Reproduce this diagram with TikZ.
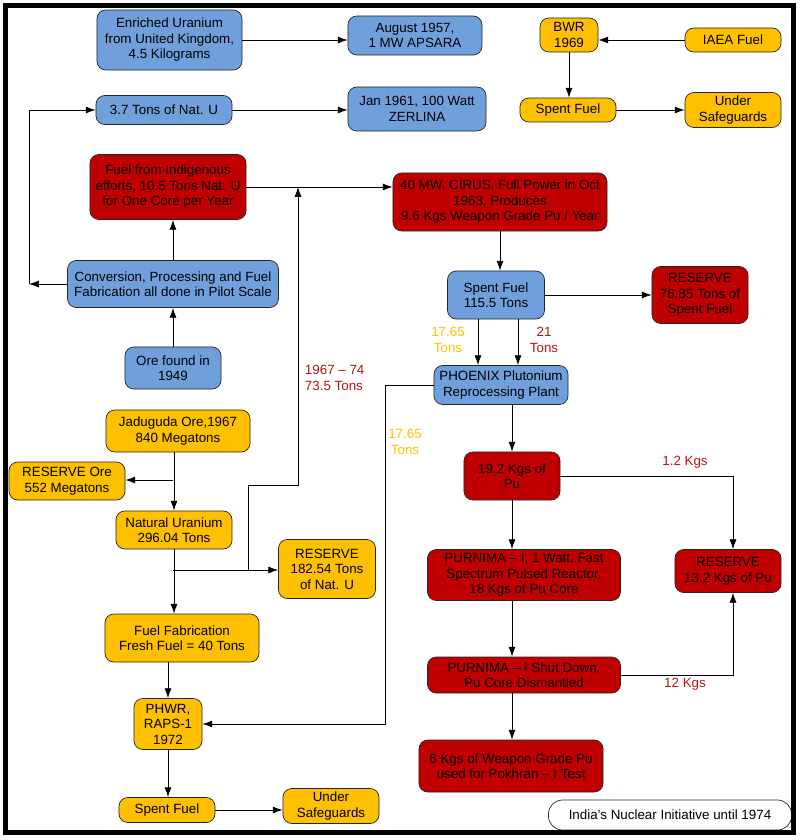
\documentclass[tikz,border=0pt]{standalone}
\usepackage{fontspec}
\setmainfont{Liberation Sans}
\usetikzlibrary{arrows.meta,positioning}
\definecolor{bluebox}{RGB}{111,160,220}
\definecolor{redbox}{RGB}{192,0,0}
\definecolor{orgbox}{RGB}{255,192,0}
\definecolor{redtxt}{RGB}{180,20,20}

\begin{document}
\begin{tikzpicture}[x=0.025cm,y=-0.025cm,
  box/.style={rectangle,rounded corners=2.2mm,draw=black!85,line width=0.5pt,align=center,inner sep=1pt,font=\fontsize{9.5}{11}\selectfont},
  blu/.style={box,fill=bluebox},
  rd/.style={box,fill=redbox},
  org/.style={box,fill=orgbox},
  sz/.style 2 args={minimum width=#1cm,minimum height=#2cm},
  lbl/.style={align=center,font=\fontsize{9.5}{11}\selectfont},
  a/.style={-{Latex[length=7pt,width=5pt]},line width=0.6pt}]
  \useasboundingbox (0,0) rectangle (802,840);
  % top row
  \node[blu,sz={3.625}{1.5}] (enr) at (169.5,40) {Enriched Uranium\\from United Kingdom,\\4.5 Kilograms};
  \node[blu,sz={3.35}{0.975}] (aps) at (415,35.5) {August 1957,\\1 MW APSARA};
  \node[blu,sz={3.4}{0.725}] (natu) at (164,110) {3.7 Tons of Nat. U};
  \node[blu,sz={3.45}{1.1}] (zer) at (417,109) {Jan 1961, 100 Watt\\ZERLINA};
  \node[org,sz={1.45}{0.85}] (bwr) at (569,35) {BWR\\1969};
  \node[org,sz={2.4}{0.6}] (iaea) at (733,40) {IAEA Fuel};
  \node[org,sz={2.4}{0.6}] (spt) at (568,110) {Spent Fuel};
  \node[org,sz={2.4}{0.875}] (sgt) at (733,110) {Under\\Safeguards};
  % CIRUS branch
  \node[rd,sz={3.9}{1.625}] (indig) at (168,187) {Fuel from Indigenous\\efforts, 10.5 Tons Nat. U\\for One Core per Year};
  \node[rd,sz={5.35}{1.45}] (cirus) at (500,202) {40 MW, CIRUS, Full Power in Oct\\1963, Produces\\9.6 Kgs Weapon Grade Pu / Year};
  \node[blu,sz={5.275}{1.175}] (conv) at (173,284) {Conversion, Processing and Fuel\\Fabrication all done in Pilot Scale};
  \node[blu,sz={2.425}{1.2}] (sp115) at (496,295) {Spent Fuel\\115.5 Tons};
  \node[rd,sz={2.4}{1.425}] (res76) at (700,295) {RESERVE\\76.85 Tons of\\Spent Fuel};
  \node[blu,sz={2.4}{1.05}] (ore49) at (173,368) {Ore found in\\1949};
  \node[blu,sz={3.35}{0.975}] (phx) at (501,385) {PHOENIX Plutonium\\Reprocessing Plant};
  % Jaduguda chain
  \node[org,sz={3.6}{1.05}] (jad) at (178,431) {Jaduguda Ore,1967\\840 Megatons};
  \node[org,sz={2.9}{0.95}] (resore) at (67,481) {RESERVE Ore\\552 Megatons};
  \node[org,sz={2.9}{0.95}] (natur) at (174,530) {Natural Uranium\\296.04 Tons};
  \node[org,sz={2.425}{1.475}] (res182) at (327,569) {RESERVE\\182.54 Tons\\of Nat. U};
  \node[org,sz={3.85}{1.2}] (ffab) at (182,638) {Fuel Fabrication\\Fresh Fuel = 40 Tons};
  \node[org,sz={1.7}{1.275}] (phwr) at (168,724) {PHWR,\\RAPS-1\\1972};
  \node[org,sz={2.4}{0.625}] (spb) at (167,810) {Spent Fuel};
  \node[org,sz={2.4}{0.875}] (sgb) at (331,806) {Under\\Safeguards};
  % plutonium
  \node[rd,sz={2.4}{1.2}] (pu19) at (512,476) {19.2 Kgs of\\Pu};
  \node[rd,sz={4.825}{1.275}] (pur) at (524,575) {PURNIMA – I, 1 Watt, Fast\\Spectrum Pulsed Reactor,\\18 Kgs of Pu Core};
  \node[rd,sz={2.65}{1.075}] (res13) at (728,571) {RESERVE\\13.2 Kgs of Pu};
  \node[rd,sz={4.825}{0.9}] (shut) at (524,675) {PURNIMA – I Shut Down,\\Pu Core Dismantled};
  \node[rd,sz={4.6}{1.3}] (pok) at (511,766) {6 Kgs of Weapon Grade Pu\\used for Pokhran – I Test};
  \node[box,fill=white,rounded corners=3.5mm,sz={6.075}{0.75}] (title) at (670,815) {India's Nuclear Initiative until 1974};

  \coordinate (cl) at (29,284);
  \coordinate (jb) at (173,480);
  \coordinate (nb) at (173,570);
  \coordinate (k1) at (248,570);
  \coordinate (k2) at (298,485);
  \coordinate (p1) at (385,385);

  \draw[a] (enr.east) -- (enr.east -| aps.west);
  \draw[a] (natu.east) -- (natu.east -| zer.west);
  \draw[a] (iaea.west) -- (iaea.west -| bwr.east);
  \draw[a] (bwr.south) -- (bwr.south |- spt.north);
  \draw[a] (spt) -- (sgt);
  \draw[a] (conv.west) -- (cl);
  \draw[a] (cl) |- (natu.west);
  \draw[a] (ore49) -- (conv);
  \draw[a] (conv.north) -- (conv.north |- indig.south);
  \draw[a] (indig.east) -- (indig.east -| cirus.west);
  \draw[a] (natur.north |- jad.south) -- (natur.north);
  \draw[a] (jb) -- (jb -| resore.east);
  \draw[a] (natur.south) -- (natur.south |- ffab.north);
  \draw[a] (nb) -- (nb -| res182.west);
  \draw[a] (k1) |- (k2) -- (k2 |- indig.east);
  \draw[a] (cirus.south) -- (cirus.south |- sp115.north);
  \draw[a] (sp115) -- (res76);
  \draw[a] ([xshift=-4.5mm]sp115.south) -- ([xshift=-4.5mm]sp115.south |- phx.north);
  \draw[a] ([xshift=5.5mm]sp115.south) -- ([xshift=5.5mm]sp115.south |- phx.north);
  \draw[a] (phx.west) -- (p1) |- (phwr.east);
  \draw[a] (pu19.north |- phx.south) -- (pu19.north);
  \draw[a] (pu19.east) -| ([xshift=1.25mm]res13.north);
  \draw[a] (pu19.south) -- (pu19.south |- pur.north);
  \draw[a] (pu19.south |- pur.south) -- (pu19.south |- shut.north);
  \draw[a] (shut.east) -| ([xshift=1.25mm]res13.south);
  \draw[a] (pu19.south |- shut.south) -- (pu19.south |- pok.north);
  \draw[a] (phwr.north |- ffab.south) -- (phwr.north);
  \draw[a] (phwr.south) -- (phwr.south |- spb.north);
  \draw[a] (spb.east) -- (spb.east -| sgb.west);

  \node[lbl,text=redtxt,align=left,anchor=west] (l74) at (300,378) {1967 – 74\\73.5 Tons};
  \node[lbl,text=orgbox] (l17a) at (448,340) {17.65\\Tons};
  \node[lbl,text=redtxt] (l21) at (544,340) {21\\Tons};
  \node[lbl,text=orgbox] (l17b) at (405,442) {17.65\\Tons};
  \node[lbl,text=redtxt] (l12a) at (685,462) {1.2 Kgs};
  \node[lbl,text=redtxt] (l12b) at (685,684) {12 Kgs};

  \draw[line width=3.6pt] (5.5,5.5) rectangle (793.5,832.5);
\end{tikzpicture}
\end{document}
